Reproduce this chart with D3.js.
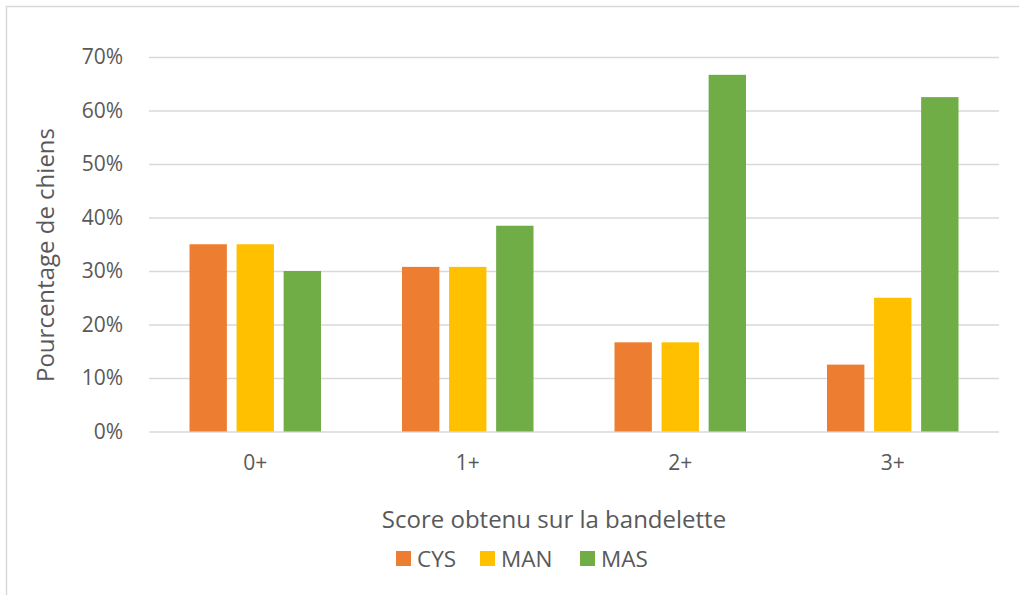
<!DOCTYPE html>
<html>
<head>
<meta charset="utf-8">
<script src="https://cdn.jsdelivr.net/npm/d3@7"></script>
<style>
  html, body { margin: 0; padding: 0; background: #fff; }
  svg { display: block; }
  text { font-family: "Open Sans", "Noto Sans", sans-serif; fill: #595959; }
</style>
</head>
<body>
<svg id="chart" width="1019" height="595"></svg>
<script>
// Score categories on the test strip
const categories = ["0+", "1+", "2+", "3+"];
// Series names
const seriesNames = ["CYS", "MAN", "MAS"];
// Share of dogs per score, one array per series
const cysValues = [0.35, 0.3077, 0.1667, 0.125];
const manValues = [0.35, 0.3077, 0.1667, 0.25];
const masValues = [0.30, 0.3846, 0.6667, 0.625];
// Y axis ticks
const yTicks = [0, 0.1, 0.2, 0.3, 0.4, 0.5, 0.6, 0.7];

const colors = { CYS: "#ED7D31", MAN: "#FFC000", MAS: "#70AD47" };
const seriesValues = { CYS: cysValues, MAN: manValues, MAS: masValues };

const rows = categories.map((c, i) => ({
  category: c,
  values: seriesNames.map(s => ({ series: s, value: seriesValues[s][i] }))
}));

const svg = d3.select("#chart");

// Chart area border
svg.append("rect")
  .attr("x", 6.5).attr("y", 6.5)
  .attr("width", 1030).attr("height", 600)
  .attr("fill", "none")
  .attr("stroke", "#d9d9d9")
  .attr("stroke-width", 1.5);

const plot = { left: 149, right: 999, top: 57, bottom: 431.5 };

const x0 = d3.scaleBand()
  .domain(categories)
  .range([plot.left, plot.right])
  .padding(0);

const groupPad = 40.5;
const x1 = d3.scaleBand()
  .domain(seriesNames)
  .range([groupPad, x0.bandwidth() - groupPad])
  .paddingInner(0.206)
  .paddingOuter(0);

const y = d3.scaleLinear()
  .domain([0, 0.7])
  .range([plot.bottom, plot.top]);

// Horizontal gridlines with percentage labels
const yAxis = d3.axisLeft(y)
  .tickValues(yTicks)
  .tickFormat(d3.format(".0%"))
  .tickSize(-(plot.right - plot.left))
  .tickPadding(26);

const gy = svg.append("g")
  .attr("transform", `translate(${plot.left},0)`)
  .call(yAxis);
gy.select(".domain").remove();
gy.selectAll(".tick line").attr("stroke", "#d9d9d9").attr("stroke-width", 1.5);
gy.selectAll(".tick text")
  .attr("font-size", 21)
  .style("fill", "#595959");

// Bars
const groups = svg.append("g")
  .selectAll("g")
  .data(rows)
  .join("g")
  .attr("transform", d => `translate(${x0(d.category)},0)`);

groups.selectAll("rect")
  .data(d => d.values)
  .join("rect")
  .attr("x", d => x1(d.series))
  .attr("y", d => y(d.value))
  .attr("width", x1.bandwidth())
  .attr("height", d => y(0) - y(d.value))
  .attr("fill", d => colors[d.series]);

// Category labels
const xAxis = d3.axisBottom(x0).tickSize(0).tickPadding(24);
const gx = svg.append("g")
  .attr("transform", `translate(0,${plot.bottom})`)
  .call(xAxis);
gx.select(".domain").remove();
gx.selectAll(".tick text")
  .attr("font-size", 21)
  .style("fill", "#595959");

// Axis titles
svg.append("text")
  .attr("x", 554).attr("y", 527.5)
  .attr("text-anchor", "middle")
  .attr("font-size", 24)
  .text("Score obtenu sur la bandelette");

svg.append("text")
  .attr("transform", "translate(54,255) rotate(-90)")
  .attr("text-anchor", "middle")
  .attr("font-size", 24)
  .text("Pourcentage de chiens");

// Legend
const legendX = [396, 480, 580];
const legend = svg.append("g")
  .selectAll("g")
  .data(seriesNames)
  .join("g")
  .attr("transform", (d, i) => `translate(${legendX[i]},551)`);
legend.append("rect")
  .attr("width", 15).attr("height", 15)
  .attr("fill", d => colors[d]);
legend.append("text")
  .attr("x", 21).attr("y", 15.5)
  .attr("font-size", 22.5)
  .text(d => d);
</script>
</body>
</html>
